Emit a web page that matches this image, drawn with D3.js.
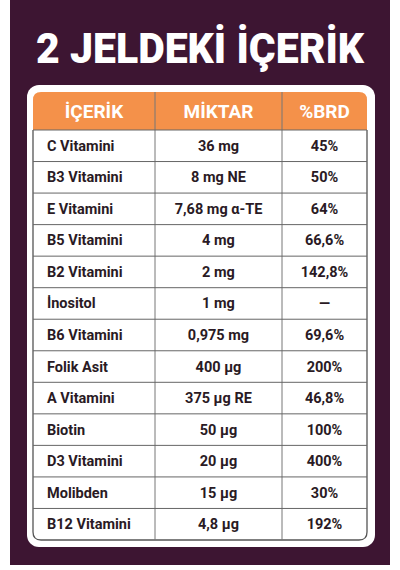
<!DOCTYPE html><html><head><meta charset="utf-8">
<script src="https://cdn.jsdelivr.net/npm/d3@7"></script>
<style>body{margin:0;background:#fff}</style></head><body>
<script>
const title = "2 JELDEKİ İÇERİK";
const headers = ["İÇERİK","MİKTAR","%BRD"];
const ingredients = ["C Vitamini","B3 Vitamini","E Vitamini","B5 Vitamini","B2 Vitamini","İnositol","B6 Vitamini","Folik Asit","A Vitamini","Biotin","D3 Vitamini","Molibden","B12 Vitamini"];
const amounts = ["36 mg","8 mg NE","7,68 mg α-TE","4 mg","2 mg","1 mg","0,975 mg","400 μg","375 μg RE","50 μg","20 μg","15 μg","4,8 μg"];
const brd = ["45%","50%","64%","66,6%","142,8%","—","69,6%","200%","46,8%","100%","400%","30%","192%"];

(function(){
const W=400,H=570;
const svg=d3.select("body").append("svg").attr("width",W).attr("height",H);
svg.append("rect").attr("x",10).attr("y",0).attr("width",380).attr("height",565).attr("fill","#3d1532");
svg.append("text").attr("x",200).attr("y",63).attr("text-anchor","middle")
  .attr("font-family","Roboto").attr("font-weight",900).attr("font-size",42)
  .attr("fill","#fff").attr("textLength",328).attr("lengthAdjust","spacingAndGlyphs").text(title);
svg.append("rect").attr("x",27).attr("y",85).attr("width",348).attr("height",462).attr("rx",12).attr("fill","#fff");
const x0=33,x1=367,t0=92,hh=38;
const y=d3.scaleBand().domain(d3.range(ingredients.length)).range([t0+hh,540]);
const cols=[x0,155,282,x1];
const hp=`M${x0},${t0+hh}V${t0+8}Q${x0},${t0} ${x0+8},${t0}H${x1-8}Q${x1},${t0} ${x1},${t0+8}V${t0+hh}Z`;
svg.append("path").attr("d",hp).attr("fill","#f4914a");
const bp=`M${x0},${t0+hh}V532Q${x0},540 ${x0+8},540H${x1-8}Q${x1},540 ${x1},532V${t0+hh}`;
svg.append("path").attr("d",bp).attr("fill","none").attr("stroke","#555").attr("stroke-width",1.3);
headers.forEach((h,i)=>{
  if(i>0) svg.append("line").attr("x1",cols[i]).attr("x2",cols[i]).attr("y1",t0).attr("y2",540).attr("stroke","#777").attr("stroke-width",1);
  svg.append("text").attr("x",(cols[i]+cols[i+1])/2).attr("y",t0+hh/2+7).attr("text-anchor","middle")
   .attr("font-family","Roboto").attr("font-weight",700).attr("font-size",19).attr("fill","#fff").text(h);
});
const g=svg.selectAll("g.r").data(ingredients).enter().append("g").attr("class","r");
g.append("line").attr("x1",x0).attr("x2",x1).attr("y1",(d,i)=>y(i)).attr("y2",(d,i)=>y(i)).attr("stroke","#666").attr("stroke-width",1);
const ty=(d,i)=>y(i)+y.bandwidth()/2+5;
const st=s=>s.attr("font-family","Roboto").attr("font-weight",700).attr("font-size",14.5).attr("fill","#2a1a24");
st(g.append("text").attr("x",47).attr("y",ty).text(d=>d));
st(g.append("text").attr("x",(cols[1]+cols[2])/2).attr("y",ty).attr("text-anchor","middle").text((d,i)=>amounts[i]));
st(g.append("text").attr("x",(cols[2]+cols[3])/2).attr("y",ty).attr("text-anchor","middle").text((d,i)=>brd[i]));
})();
</script></body></html>
